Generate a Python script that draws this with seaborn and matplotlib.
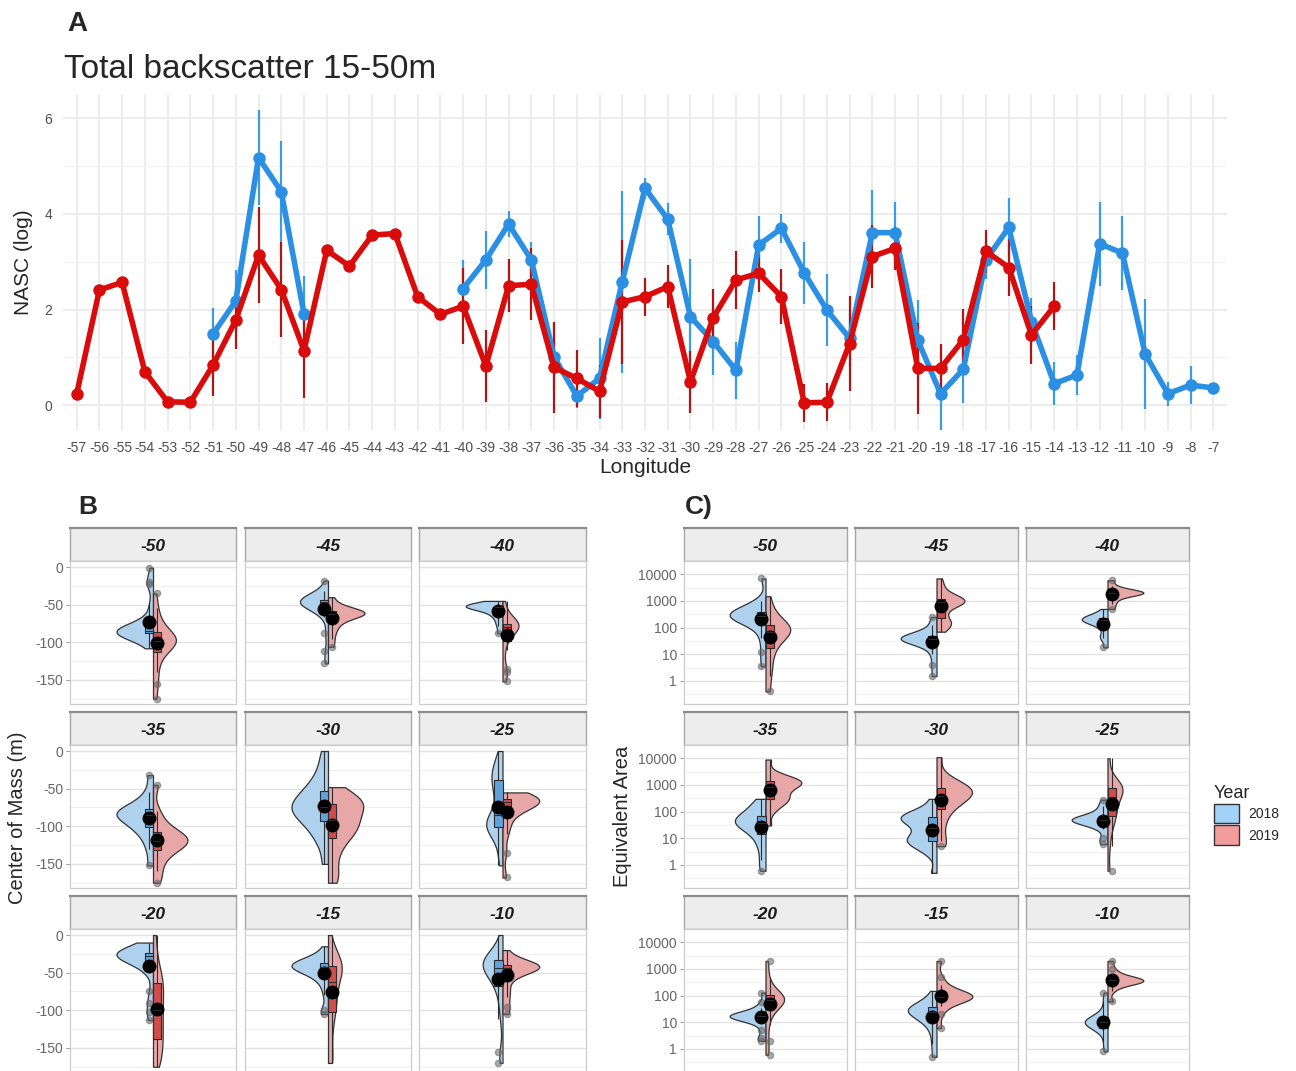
import numpy as np
import pandas as pd
import matplotlib
matplotlib.use("Agg")
import matplotlib.pyplot as plt
from matplotlib.patches import Patch
import seaborn as sns

# ---------------- Panel A data ----------------
lon = list(range(-57, -6))
nan = np.nan
nasc_2019 = [0.23, 2.41, 2.57, 0.70, 0.07, 0.06, 0.84, 1.78, 3.14, 2.42, 1.14, 3.24, 2.91, 3.56,
             3.59, 2.27, 1.90, 2.07, 0.82, 2.50, 2.53, 0.79, 0.56, 0.29, 2.16, 2.27, 2.48, 0.49,
             1.83, 2.62, 2.76, 2.27, 0.05, 0.06, 1.29, 3.11, 3.28, 0.77, 0.77, 1.37, 3.22, 2.88,
             1.47, 2.07] + [nan] * 7
err_2019 = [nan] * 6 + [0.65, 0.6, 1.0, 1.0, 1.0] + [nan] * 6 + \
           [0.8, 0.75, 0.55, 0.75, 0.95, 0.6, 0.55, 1.3, 0.4, 0.45, 0.65, 0.6, 0.6, 0.4, 0.58,
            0.4, 0.4, 1.0, 0.65, 0.45, 0.95, 0.5, 0.65, 0.45, 0.6, 0.6, 0.5] + [nan] * 7
nasc_2018 = [nan] * 6 + [1.49, 2.18, 5.18, 4.47, 1.91] + [nan] * 6 + \
            [2.44, 3.04, 3.79, 3.04, 1.01, 0.19, 0.56, 2.58, 4.54, 3.89, 1.85, 1.33, 0.73, 3.35,
             3.70, 2.77, 1.99, 1.40, 3.61, 3.61, 1.36, 0.24, 0.75, 3.04, 3.72, 1.75, 0.45, 0.63,
             3.38, 3.18, 1.07, 0.24, 0.42, 0.36]
err_2018 = [nan] * 6 + [0.55, 0.65, 1.0, 1.05, 0.8] + [nan] * 6 + \
           [0.6, 0.6, 0.28, 0.38, 0.7, 0.25, 0.85, 1.9, 0.22, 0.33, 1.2, 0.7, 0.6, 0.6, 0.3, 0.65,
            0.75, 0.6, 0.9, 0.65, 0.85, 0.8, 0.7, 0.4, 0.62, 0.5, 0.45, 0.42, 0.88, 0.78, 1.15,
            0.25, 0.4, nan]

# ---------------- Panel B / C data ----------------
facets = [-50, -45, -40, -35, -30, -25, -20, -15, -10]
years = ["2018", "2019"]

com_m50_2018 = [-1, -20, -22, -48, -64, -74, -79, -81, -83, -84, -85, -86, -86, -87, -88, -89, -90, -92, -96, -108]
com_m50_2019 = [-35, -55, -68, -78, -85, -90, -93, -95, -97, -99, -101, -104, -108, -115, -125, -140, -155, -175]
com_m45_2018 = [-18, -32, -39, -42, -43, -44, -45, -46, -46, -47, -48, -50, -53, -58, -66, -88, -112, -128]
com_m45_2019 = [-40, -50, -55, -58, -59, -60, -61, -62, -63, -65, -68, -72, -78, -85, -95, -106]
com_m40_2018 = [-45, -48, -50, -51, -52, -52, -53, -54, -56, -60, -64, -70, -78, -88]
com_m40_2019 = [-45, -62, -70, -74, -76, -77, -78, -79, -80, -82, -86, -95, -110, -135, -140, -152]
com_m35_2018 = [-32, -54, -66, -74, -78, -80, -82, -84, -86, -90, -95, -100, -106, -115, -130, -152]
com_m35_2019 = [-45, -80, -95, -105, -110, -114, -117, -119, -121, -124, -128, -135, -145, -160, -175]
com_m30_2018 = [0, -20, -35, -45, -52, -58, -64, -68, -72, -76, -80, -84, -88, -95, -102, -112, -125, -150]
com_m30_2019 = [-48, -58, -63, -67, -70, -74, -80, -86, -92, -98, -103, -108, -115, -125, -140, -160, -175]
com_m25_2018 = [0, -15, -22, -30, -36, -42, -50, -60, -72, -85, -92, -95, -97, -99, -102, -106, -115, -133, -152]
com_m25_2019 = [-55, -60, -62, -63, -64, -65, -66, -67, -68, -70, -73, -78, -86, -98, -110, -135, -168]
com_m20_2018 = [-10, -18, -20, -22, -23, -24, -25, -25, -26, -27, -28, -30, -33, -37, -42, -50, -75, -90, -102, -113]
com_m20_2019 = [0, -30, -50, -58, -65, -75, -85, -95, -105, -115, -125, -135, -145, -155, -165, -175]
com_m15_2018 = [-15, -27, -32, -35, -37, -39, -40, -41, -42, -43, -45, -48, -52, -58, -66, -80, -100, -105]
com_m15_2019 = [0, -22, -32, -37, -40, -42, -45, -50, -58, -68, -78, -88, -95, -105, -120, -140, -165, -170]
com_m10_2018 = [0, -20, -27, -30, -32, -34, -36, -38, -40, -42, -45, -48, -52, -58, -65, -75, -90, -112, -155, -170]
com_m10_2019 = [-20, -32, -37, -39, -40, -41, -42, -43, -44, -45, -47, -52, -60, -72, -82, -95, -105]

ea_m50_2018 = [3.5, 12, 40, 100, 160, 200, 240, 270, 290, 310, 340, 380, 450, 650, 1000, 7000]
ea_m50_2019 = [0.4, 1.5, 4, 10, 20, 35, 50, 65, 75, 85, 100, 120, 160, 250, 500, 1500]
ea_m45_2018 = [1.5, 4, 10, 20, 28, 33, 36, 38, 40, 42, 45, 50, 65, 120, 250]
ea_m45_2019 = [70, 110, 140, 170, 250, 450, 700, 850, 950, 1000, 1050, 1150, 1400, 1900, 3500, 7000]
ea_m40_2018 = [18, 40, 50, 100, 140, 170, 190, 200, 210, 230, 260, 320, 500]
ea_m40_2019 = [500, 800, 1200, 1600, 1800, 1950, 2050, 2150, 2300, 2600, 3500, 6000]
ea_m35_2018 = [0.6, 1.5, 4, 8, 14, 20, 26, 32, 38, 44, 50, 58, 70, 90, 130, 200, 300]
ea_m35_2019 = [30, 100, 180, 250, 300, 350, 500, 750, 1000, 1150, 1250, 1350, 1450, 1700, 2500, 9000]
ea_m30_2018 = [0.5, 2.5, 4.5, 6, 7.5, 8.5, 10, 13, 20, 30, 42, 52, 58, 63, 70, 85, 120, 300]
ea_m30_2019 = [5, 8, 25, 60, 120, 180, 250, 320, 400, 500, 600, 680, 750, 900, 1300, 2000, 11000]
ea_m25_2018 = [6, 10, 22, 32, 40, 44, 47, 50, 53, 58, 70, 100, 160, 280]
ea_m25_2019 = [0.6, 5, 20, 40, 60, 90, 130, 200, 300, 450, 600, 700, 750, 800, 900, 1100, 1500, 10000]
ea_m20_2018 = [2, 2.5, 5, 9, 12, 14, 15, 16, 17, 17, 18, 19, 21, 25, 35, 55, 130]
ea_m20_2019 = [0.6, 2, 8, 20, 35, 50, 60, 68, 72, 76, 82, 95, 120, 200, 500, 2000]
ea_m15_2018 = [0.5, 1.5, 4, 8, 12, 16, 20, 24, 27, 30, 34, 40, 50, 70, 150]
ea_m15_2019 = [6, 20, 40, 60, 72, 82, 88, 92, 98, 108, 125, 160, 250, 500, 2000]
ea_m10_2018 = [0.8, 1.8, 4, 5.5, 7, 8.5, 9.5, 10, 11, 12, 14, 18, 28, 60, 130]
ea_m10_2019 = [60, 150, 250, 300, 330, 350, 370, 390, 420, 480, 650, 1000, 2000]

com_2018 = [com_m50_2018, com_m45_2018, com_m40_2018, com_m35_2018, com_m30_2018,
            com_m25_2018, com_m20_2018, com_m15_2018, com_m10_2018]
com_2019 = [com_m50_2019, com_m45_2019, com_m40_2019, com_m35_2019, com_m30_2019,
            com_m25_2019, com_m20_2019, com_m15_2019, com_m10_2019]
ea_2018 = [ea_m50_2018, ea_m45_2018, ea_m40_2018, ea_m35_2018, ea_m30_2018,
           ea_m25_2018, ea_m20_2018, ea_m15_2018, ea_m10_2018]
ea_2019 = [ea_m50_2019, ea_m45_2019, ea_m40_2019, ea_m35_2019, ea_m30_2019,
           ea_m25_2019, ea_m20_2019, ea_m15_2019, ea_m10_2019]

com_ticks = [0, -50, -100, -150]
ea_ticks = [1, 10, 100, 1000, 10000]

# ---------------- styling ----------------
W, H = 1296, 1071
sns.set_theme(style="white")
plt.rcParams["font.family"] = ["Liberation Sans", "DejaVu Sans"]

line_pal = {"2018": "#2B8FE3", "2019": "#D90B0B"}
err_pal = {"2018": "#3C9BE6", "2019": "#B01515"}
vio_pal = {"2018": "#A3D2F8", "2019": "#F29C9C"}
box_pal = {"2018": "#4DA3EF", "2019": "#E53935"}

fig = plt.figure(figsize=(W / 100, H / 100), dpi=100)
fig.patch.set_facecolor("white")


def fax(l, t, r, b):
    return fig.add_axes([l / W, 1 - b / H, (r - l) / W, (b - t) / H])


# ---------------- Panel A ----------------
rows = []
for yr, vals, errs in [("2018", nasc_2018, err_2018), ("2019", nasc_2019, err_2019)]:
    seg = 0
    prev_nan = True
    for x, v, e in zip(lon, vals, errs):
        if np.isnan(v):
            prev_nan = True
            continue
        if prev_nan:
            seg += 1
            prev_nan = False
        rows.append({"lon": x, "nasc": v, "err": e, "Year": yr, "seg": f"{yr}-{seg}"})
dfA = pd.DataFrame(rows)

axA = fax(63, 95, 1227, 430)
axA.set_facecolor("white")
for yr in years:
    d = dfA[(dfA.Year == yr) & dfA.err.notna()]
    axA.vlines(d.lon, d.nasc - d.err, d.nasc + d.err, colors=err_pal[yr], lw=1.6, zorder=2)
sns.lineplot(data=dfA, x="lon", y="nasc", hue="Year", units="seg", estimator=None,
             palette=line_pal, hue_order=years, linewidth=4.0, marker="o", markersize=9,
             markeredgewidth=0, legend=False, sort=True, ax=axA, zorder=3)
axA.set_xlim(-57.6, -6.4)
axA.set_ylim(-0.52, 6.49)
axA.set_xticks(lon)
axA.set_xticklabels([f"{v}" for v in lon], fontsize=10, color="#4D4D4D")
axA.set_yticks([0, 2, 4, 6])
axA.set_yticklabels(["0", "2", "4", "6"], fontsize=10, color="#4D4D4D")
axA.set_yticks([1, 3, 5], minor=True)
axA.grid(True, which="major", color="#EBEBEB", lw=1.3)
axA.grid(True, which="minor", axis="y", color="#F2F2F2", lw=0.8)
axA.set_axisbelow(True)
for s in axA.spines.values():
    s.set_visible(False)
axA.tick_params(length=0, pad=8)
axA.set_xlabel("Longitude", fontsize=15, labelpad=2)
axA.set_ylabel("NASC (log)", fontsize=15, labelpad=8)

fig.text(67 / W, 1 - 31 / H, "A", fontsize=20, fontweight="bold", va="baseline")
fig.text(64 / W, 1 - 78 / H, "Total backscatter 15-50m", fontsize=24, va="baseline")

# ---------------- Facet panels ----------------
row_px = [(528, 561, 704), (712, 745, 888), (896, 929, 1072)]
colsB = [(70, 236), (245, 411), (419, 586)]
colsC = [(684, 847), (855, 1018), (1026, 1189)]


def build(d18, d19):
    recs = []
    for i, f in enumerate(facets):
        for v in d18[i]:
            recs.append({"facet": f, "Year": "2018", "value": v})
        for v in d19[i]:
            recs.append({"facet": f, "Year": "2019", "value": v})
    return pd.DataFrame(recs)


dfB = build(com_2018, com_2019)
dfC = build(ea_2018, ea_2019)


def draw_facets(df, cols, logy):
    for i, f in enumerate(facets):
        r, c = divmod(i, 3)
        st, pt, pb = row_px[r]
        l, rr = cols[c]
        # strip
        axs = fax(l, st, rr, pt)
        axs.set_facecolor("#EDEDED")
        axs.set_xticks([]); axs.set_yticks([])
        for s in axs.spines.values():
            s.set_color("#A6A6A6"); s.set_linewidth(1.0)
        axs.spines["top"].set_color("#8C8C8C"); axs.spines["top"].set_linewidth(1.6)
        axs.text(0.5, 0.45, f"{f}", transform=axs.transAxes, ha="center", va="center",
                 fontsize=12.5, fontweight="bold", fontstyle="italic", color="#1A1A1A")
        # panel
        ax = fax(l, pt, rr, pb)
        ax.set_facecolor("white")
        sub = df[df.facet == f]
        if logy:
            ax.set_yscale("log")
        sns.violinplot(data=sub, y="value", hue="Year", hue_order=years, split=True,
                       inner=None, cut=0, density_norm="area", common_norm=True,
                       width=0.44, bw_adjust=0.65,
                       palette=vio_pal, linewidth=0.9, linecolor="#333333", legend=False,
                       log_scale=logy or None, ax=ax)
        sns.boxplot(data=sub, y="value", hue="Year", hue_order=years, dodge=True, width=0.1,
                    gap=0, palette=box_pal, linewidth=0.8, linecolor="#2B2B2B",
                    fliersize=4.5, legend=False, log_scale=logy or None, ax=ax,
                    showcaps=False,
                    flierprops=dict(marker="o", markerfacecolor="#666666",
                                    markeredgecolor="#666666", alpha=0.55))
        sns.pointplot(data=sub, y="value", hue="Year", hue_order=years, dodge=0.05,
                      palette=["black", "black"], errorbar=None, markers="o",
                      linestyle="none", markersize=8, legend=False,
                      log_scale=logy or None, ax=ax)
        ax.set_xlim(-0.5, 0.5)
        if logy:
            ax.set_ylim(10 ** -0.87, 10 ** 4.33)
            ax.set_yticks(ea_ticks)
            ax.set_yticklabels([f"{t}" for t in ea_ticks])
            ax.set_yticks([10 ** (k + 0.5) for k in range(-1, 5)], minor=True)
        else:
            ax.set_ylim(-182, 8)
            ax.set_yticks(com_ticks)
            ax.set_yticklabels([f"{t}" for t in com_ticks])
            ax.set_yticks([-25, -75, -125, -175], minor=True)
        ax.yaxis.set_minor_formatter(matplotlib.ticker.NullFormatter())
        ax.grid(True, which="major", axis="y", color="#E3E3E3", lw=1.0)
        ax.grid(True, which="minor", axis="y", color="#F0F0F0", lw=0.7)
        ax.set_axisbelow(True)
        ax.set_xticks([])
        ax.set_xlabel(""); ax.set_ylabel("")
        ax.tick_params(axis="y", which="major", length=3, width=0.7, color="#999999",
                       labelsize=10, labelcolor="#666666", pad=2, left=True)
        ax.tick_params(axis="y", which="minor", length=0)
        if c != 0:
            ax.tick_params(axis="y", which="major", labelleft=False, length=0)
        for s in ax.spines.values():
            s.set_color("#CCCCCC"); s.set_linewidth(0.9)


draw_facets(dfB, colsB, False)
draw_facets(dfC, colsC, True)

fig.text(78 / W, 1 - 514 / H, "B", fontsize=19, fontweight="bold", va="baseline")
fig.text(685 / W, 1 - 514 / H, "C)", fontsize=19, fontweight="bold", va="baseline")
fig.text(18 / W, 1 - 818 / H, "Center of Mass (m)", fontsize=14.5, rotation=90,
         ha="center", va="center")
fig.text(622 / W, 1 - 816 / H, "Equivalent Area", fontsize=14.5, rotation=90,
         ha="center", va="center")

handles = [Patch(facecolor=vio_pal[y], edgecolor="#333333", label=y) for y in years]
fig.legend(handles=handles, title="Year", loc="upper left",
           bbox_to_anchor=(1201 / W, 1 - 772 / H), frameon=False, fontsize=10,
           title_fontsize=13, handlelength=1.8, handleheight=1.8, labelspacing=0.15,
           alignment="left", handletextpad=0.7)

fig.savefig("out.png", dpi=100, facecolor="white")
